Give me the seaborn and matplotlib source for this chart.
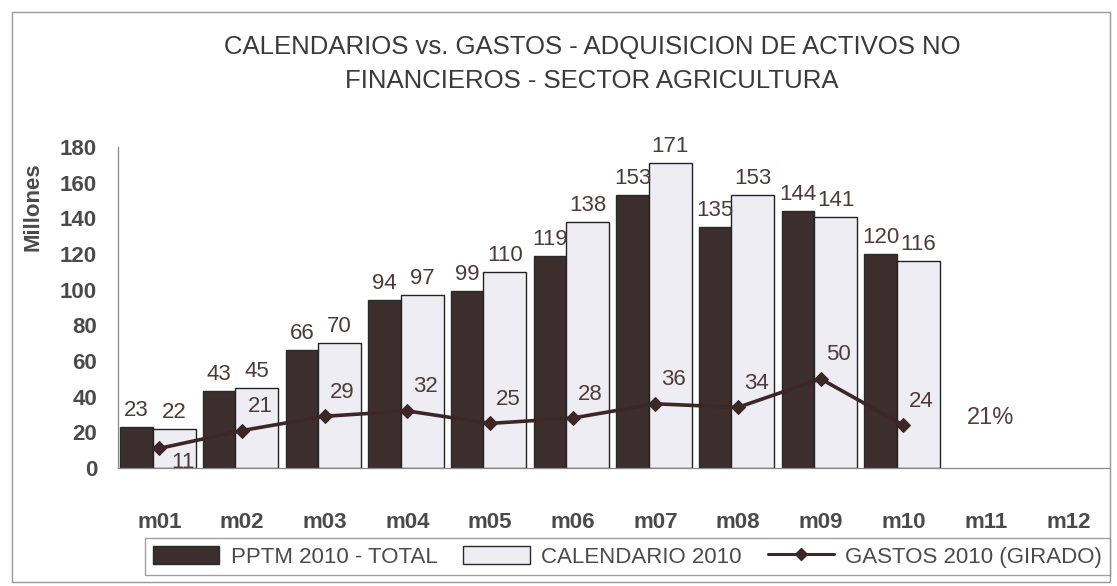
import matplotlib

matplotlib.use("Agg")
import matplotlib.pyplot as plt
import numpy as np
import pandas as pd
import seaborn as sns
from matplotlib.lines import Line2D
from matplotlib.patches import Patch, Rectangle

# data
months = ["m01", "m02", "m03", "m04", "m05", "m06", "m07", "m08", "m09", "m10", "m11", "m12"]
pptm = [23, 43, 66, 94, 99, 119, 153, 135, 144, 120]
calendario = [22, 45, 70, 97, 110, 138, 171, 153, 141, 116]
gastos = [11, 21, 29, 32, 25, 28, 36, 34, 50, 24]
series_names = ["PPTM 2010 - TOTAL", "CALENDARIO 2010", "GASTOS 2010 (GIRADO)"]
title = "CALENDARIOS vs. GASTOS - ADQUISICION DE ACTIVOS NO\nFINANCIEROS - SECTOR AGRICULTURA"
avance_text = "21%"
y_ticks = [0, 20, 40, 60, 80, 100, 120, 140, 160, 180]

DARK = "#3b2e2c"
LIGHT = "#eeedf3"
LINE = "#3d2626"
TEXT = "#4a4a4a"
LABEL = "#4d3a3a"

sns.set_style("white")
plt.rcParams["font.family"] = ["Liberation Sans", "DejaVu Sans"]

W, H = 1117, 586
fig = plt.figure(figsize=(W / 100, H / 100), dpi=100)
ax = fig.add_axes([118 / W, 1 - 468 / H, (1110 - 118) / W, (468 - 147) / H])

n = len(pptm)
df = pd.DataFrame({
    "mes": months[:n] * 2,
    "serie": [series_names[0]] * n + [series_names[1]] * n,
    "valor": pptm + calendario,
})

sns.barplot(
    data=df, x="mes", y="valor", hue="serie", order=months,
    hue_order=series_names[:2], palette=[DARK, LIGHT], saturation=1,
    edgecolor="#2a2a2a", linewidth=1.0, legend=False, ax=ax,
)

# Excel-like widths: dark bar narrower, light bar wider, side by side
dark_bars, light_bars = ax.containers[0], ax.containers[1]
for i, (pd_bar, cal_bar) in enumerate(zip(dark_bars, light_bars)):
    pd_bar.set_x(i - 0.47)
    pd_bar.set_width(0.39)
    pd_bar.set_facecolor(DARK)
    cal_bar.set_x(i - 0.08)
    cal_bar.set_width(0.52)
    cal_bar.set_facecolor(LIGHT)
    cal_bar.set_edgecolor("#222222")
    pd_bar.set_zorder(2)
    cal_bar.set_zorder(2)

for bars, vals in ((dark_bars, pptm), (light_bars, calendario)):
    for bar, v in zip(bars, vals):
        ax.annotate(str(v), (bar.get_x() + bar.get_width() / 2, v),
                    xytext=(0, 6), textcoords="offset pixels",
                    ha="center", va="bottom", fontsize=16, color=LABEL)

x_line = np.arange(len(gastos))
sns.lineplot(x=x_line, y=gastos, color=LINE, linewidth=2.6, marker="D",
             markersize=7, markeredgecolor=LINE, ax=ax, zorder=4)
for i, v in enumerate(gastos):
    off = (24, -14) if i == 0 else (18, 24)
    ax.annotate(str(v), (i, v), xytext=off, textcoords="offset pixels",
                ha="center", va="center", fontsize=16, color=LABEL, zorder=5)

ax.text(10.05, 28, avance_text, ha="center", va="center", fontsize=17, color="#5a3a3a")

ax.set_xlim(-0.5, len(months) - 0.5)
ax.set_ylim(0, 180)
ax.set_xticks(np.arange(len(months) + 1) - 0.5)
ax.set_xticklabels([])
ax.set_xticks(np.arange(len(months)), minor=True)
ax.set_xticklabels(months, minor=True, fontweight="bold")
ax.set_yticks(y_ticks)
ax.set_yticklabels([str(t) for t in y_ticks], fontweight="bold")
ax.tick_params(axis="x", which="major", direction="inout", length=10, width=0.8, color="#888888")
ax.tick_params(axis="x", which="minor", length=0, pad=32, labelsize=16, labelcolor=TEXT)
ax.tick_params(axis="y", direction="inout", length=10, width=0.8, color="#888888",
               pad=10, labelsize=16, labelcolor=TEXT)
ax.set_xlabel("")
ax.set_ylabel("")
for side in ("top", "right"):
    ax.spines[side].set_visible(False)
for side in ("left", "bottom"):
    ax.spines[side].set_color("#888888")
    ax.spines[side].set_linewidth(0.9)

fig.text(592 / W, 1 - 64 / H, title, ha="center", va="center", fontsize=18.5,
         color="#3a3a3a", linespacing=1.5)
fig.text(33 / W, 1 - 207 / H, "Millones", rotation=90, ha="center", va="center",
         fontsize=16, fontweight="bold", color=TEXT)

# outer chart border
fig.patches.append(Rectangle((12 / W, 4 / H), (1110 - 12) / W, (574 - 4) / H,
                             transform=fig.transFigure, fill=False,
                             edgecolor="#999999", linewidth=1.0))

handles = [
    Patch(facecolor=DARK, edgecolor="#2a2a2a"),
    Patch(facecolor=LIGHT, edgecolor="#2a2a2a"),
    Line2D([], [], color=LINE, linewidth=2.2, marker="D", markersize=6),
]
leg = fig.legend(handles, series_names, loc="upper left", ncol=3, mode="expand",
                 bbox_to_anchor=(145 / W, 1 - 585 / H, (1110 - 145) / W, (585 - 538) / H),
                 frameon=True, fancybox=False, edgecolor="#888888",
                 handlelength=3.0, handleheight=0.9, handletextpad=0.5,
                 columnspacing=0.6, borderpad=0.35, borderaxespad=0,
                 prop={"family": ["Liberation Sans", "DejaVu Sans"], "size": 16})
for t in leg.get_texts():
    t.set_color(TEXT)

fig.savefig("out.png", dpi=100)
